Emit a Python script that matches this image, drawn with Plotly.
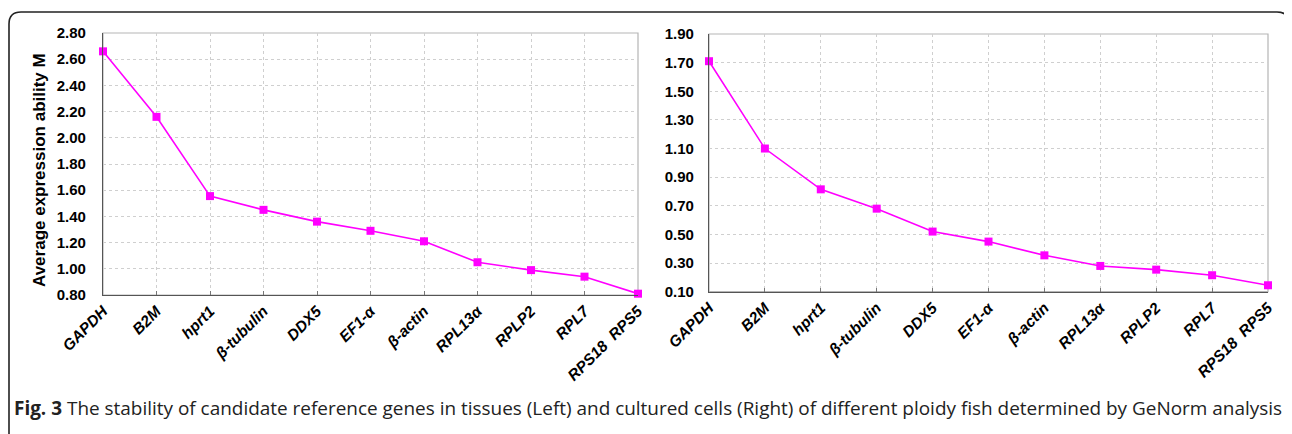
import plotly.graph_objects as go

genes = ["GAPDH", "B2M", "hprt1", "β-tubulin", "DDX5", "EF1-α", "β-actin",
         "RPL13α", "RPLP2", "RPL7", "RPS18  RPS5"]
tissue_M = [2.66, 2.16, 1.555, 1.45, 1.36, 1.29, 1.21, 1.05, 0.99, 0.94, 0.81]
cell_M = [1.71, 1.10, 0.815, 0.68, 0.52, 0.45, 0.354, 0.28, 0.254, 0.215, 0.145]
left_yticks = [0.80, 1.00, 1.20, 1.40, 1.60, 1.80, 2.00, 2.20, 2.40, 2.60, 2.80]
right_yticks = [0.10, 0.30, 0.50, 0.70, 0.90, 1.10, 1.30, 1.50, 1.70, 1.90]
y_title = "Average expression ability M"
caption = ("<b>Fig. 3</b> The stability of candidate reference genes in tissues (Left) and cultured cells "
           "(Right) of different ploidy fish determined by GeNorm analysis")

# page body has an 8px margin; figure sized to fill the rest of the window
OFF = 8
W, H = 1292 - OFF, 434 - OFF
MAG = "#ff00ff"

def px_x(p):
    return (p - OFF) / W

def px_y(p):
    return 1 - (p - OFF) / H

fig = go.Figure()
for data, xa, ya in [(tissue_M, "x", "y"), (cell_M, "x2", "y2")]:
    fig.add_trace(go.Scatter(
        x=genes, y=data, xaxis=xa, yaxis=ya, mode="lines+markers",
        line=dict(color=MAG, width=1.6),
        marker=dict(symbol="square", size=8, color=MAG),
        cliponaxis=False, showlegend=False))

xfont = dict(family="Liberation Sans, Arial, sans-serif", size=15.5, color="black",
             weight="bold", style="italic")
yfont = dict(family="Liberation Sans, Arial, sans-serif", size=15, color="black",
             weight="bold")

common_x = dict(type="category", range=[0, 10], tickangle=-45, tickfont=xfont,
                showgrid=True, gridcolor="#cfcfcf", griddash="dot", gridwidth=1,
                showline=True, linecolor="#555555", linewidth=1.2,
                ticks="inside", ticklen=4, tickcolor="#777777", automargin=False,
                zeroline=False)
common_y = dict(tickfont=yfont, tickformat=".2f",
                showgrid=True, gridcolor="#cfcfcf", griddash="dot", gridwidth=1,
                showline=True, linecolor="#555555", linewidth=1.2,
                ticks="", automargin=False, zeroline=False)

fig.update_layout(
    width=W, height=H, margin=dict(l=0, r=0, t=0, b=0),
    paper_bgcolor="white", plot_bgcolor="white",
    xaxis=dict(domain=[px_x(103), px_x(638)], anchor="y", **common_x),
    yaxis=dict(domain=[px_y(295), px_y(33)], anchor="x", range=[0.8, 2.8],
               tickvals=left_yticks, ticklabelstandoff=13, **common_y),
    xaxis2=dict(domain=[px_x(709), px_x(1268)], anchor="y2", **common_x),
    yaxis2=dict(domain=[px_y(291.7), px_y(34)], anchor="x2", range=[0.1, 1.9],
                tickvals=right_yticks, ticklabelstandoff=11, **common_y),
)

# light frame around each plot area
for xr, yr in [("x domain", "y domain"), ("x2 domain", "y2 domain")]:
    fig.add_shape(type="rect", xref=xr, yref=yr, x0=0, x1=1, y0=0, y1=1,
                  line=dict(color="#b5b5b5", width=1.2), layer="below")

# y axis title
fig.add_annotation(text="<b>" + y_title + "</b>", xref="paper", yref="paper",
                   x=px_x(40), y=px_y(170), xanchor="center", yanchor="middle",
                   textangle=-90, showarrow=False,
                   font=dict(family="Liberation Sans, Arial, sans-serif", size=17, color="black"))

# caption
fig.add_annotation(text=caption, xref="paper", yref="paper", x=px_x(12), y=px_y(408),
                   xanchor="left", yanchor="middle", showarrow=False,
                   font=dict(family="Open Sans, sans-serif", size=18.95, color="#222222"))

# outer rounded border
l, r, t, b = px_x(9), px_x(1289), px_y(12), -0.05
rx, ry = 12 / W, 12 / H
path = (f"M {l},{b} L {l},{t - ry} Q {l},{t} {l + rx},{t} "
        f"L {r - rx},{t} Q {r},{t} {r},{t - ry} L {r},{b}")
fig.add_shape(type="path", xref="paper", yref="paper", path=path,
              line=dict(color="#222222", width=1.6))

fig.write_html("out.html")
